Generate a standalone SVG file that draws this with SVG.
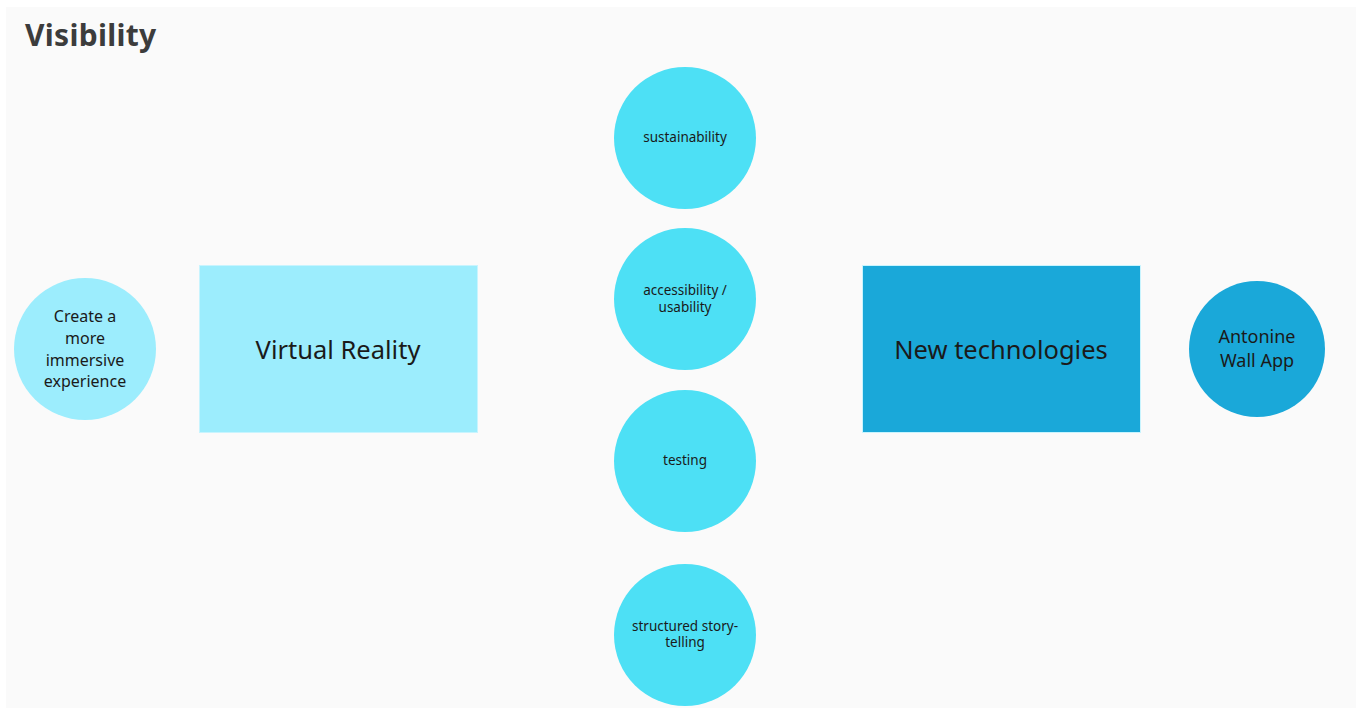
<svg xmlns="http://www.w3.org/2000/svg" width="1364" height="711" viewBox="0 0 1364 711">
  <style>
    text { font-family: "Noto Sans", Lato, "Liberation Sans", sans-serif; fill: #1a1a1a; text-anchor: middle; }
    .title { font-weight: 700; font-size: 30px; fill: #3c3c3c; text-anchor: start; letter-spacing: 0.3px; }
    .big { font-size: 25.5px; }
    .mid { font-size: 16px; }
    .app { font-size: 18px; }
    .small { font-size: 13.5px; }
    .pale { fill: #9cedfd; }
    .aqua { fill: #4de0f5; }
    .deep { fill: #1aa8d9; }
    .edge { stroke: #c8f4fe; stroke-width: 1; }
  </style>
  <rect width="1364" height="711" fill="#ffffff"/>
  <rect x="6" y="7" width="1350" height="701" fill="#fafafa"/>
  <text class="title" x="25" y="46">Visibility</text>

  <g id="connectors"></g>

  <g id="node-immersive">
    <circle class="pale" cx="85" cy="349" r="71"/>
    <text class="mid" x="85" y="322">Create a</text>
    <text class="mid" x="85" y="344">more</text>
    <text class="mid" x="85" y="366">immersive</text>
    <text class="mid" x="85" y="387">experience</text>
  </g>

  <g id="node-vr">
    <rect class="pale edge" x="199.5" y="265.5" width="278" height="167"/>
    <text class="big" x="338" y="359">Virtual Reality</text>
  </g>

  <g id="node-sustainability">
    <circle class="aqua" cx="685" cy="138" r="71"/>
    <text class="small" x="685" y="142">sustainability</text>
  </g>

  <g id="node-accessibility">
    <circle class="aqua" cx="685" cy="299" r="71"/>
    <text class="small" x="685" y="295">accessibility /</text>
    <text class="small" x="685" y="312">usability</text>
  </g>

  <g id="node-testing">
    <circle class="aqua" cx="685" cy="461" r="71"/>
    <text class="small" x="685" y="465">testing</text>
  </g>

  <g id="node-storytelling">
    <circle class="aqua" cx="685" cy="635" r="71"/>
    <text class="small" x="685" y="631">structured story-</text>
    <text class="small" x="685" y="647">telling</text>
  </g>

  <g id="node-newtech">
    <rect class="deep edge" x="862.5" y="265.5" width="278" height="167"/>
    <text class="big" x="1001" y="359">New technologies</text>
  </g>

  <g id="node-app">
    <circle class="deep" cx="1257" cy="349" r="68"/>
    <text class="app" x="1257" y="343">Antonine</text>
    <text class="app" x="1257" y="367">Wall App</text>
  </g>
</svg>
